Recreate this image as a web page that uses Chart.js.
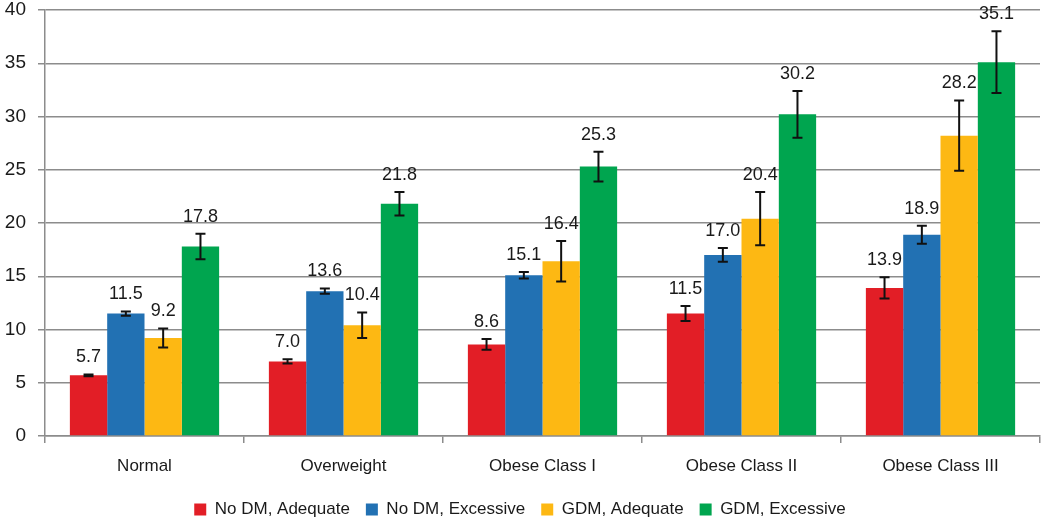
<!DOCTYPE html>
<html>
<head>
<meta charset="utf-8">
<script src="https://cdn.jsdelivr.net/npm/chart.js@4"></script>
<style>
	body { margin: 0; background: #fff; }
	#wrap { width: 1050px; height: 524px; }
</style>
</head>
<body>
<div id="wrap"><canvas id="myChart" width="1050" height="524"></canvas></div>
<script>
//Chart data

let categories = ['Normal', 'Overweight', 'Obese Class I', 'Obese Class II', 'Obese Class III'];
let seriesNames = ['No DM, Adequate', 'No DM, Excessive', 'GDM, Adequate', 'GDM, Excessive'];

let noDmAdequate = [5.7, 7.0, 8.6, 11.5, 13.9];
let noDmExcessive = [11.5, 13.6, 15.1, 17.0, 18.9];
let gdmAdequate = [9.2, 10.4, 16.4, 20.4, 28.2];
let gdmExcessive = [17.8, 21.8, 25.3, 30.2, 35.1];

// error bar half widths
let errNoDmAdequate = [0.08, 0.2, 0.5, 0.7, 1.0];
let errNoDmExcessive = [0.2, 0.25, 0.3, 0.65, 0.85];
let errGdmAdequate = [0.9, 1.2, 1.9, 2.5, 3.3];
let errGdmExcessive = [1.2, 1.1, 1.4, 2.2, 2.9];

let yTicks = [0, 5, 10, 15, 20, 25, 30, 35, 40];

let colors = ['#e21e26', '#2271b3', '#fdb813', '#00a54f'];
let values = [noDmAdequate, noDmExcessive, gdmAdequate, gdmExcessive];
let errors = [errNoDmAdequate, errNoDmExcessive, errGdmAdequate, errGdmExcessive];

const fontFamily = '"Liberation Sans", Arial, sans-serif';
const gridColor = '#8c8c8c';

//Error bars and value labels

const errorBarPlugin = {
	id: 'errorBars',
	afterDatasetsDraw(chart) {
		let ctx = chart.ctx;
		let yScale = chart.scales.y;
		ctx.save();
		chart.data.datasets.forEach((ds, i) => {
			let meta = chart.getDatasetMeta(i);
			meta.data.forEach((bar, j) => {
				let v = ds.data[j];
				let e = errors[i][j];
				let top = yScale.getPixelForValue(v + e);
				let bottom = yScale.getPixelForValue(v - e);
				let x = bar.x;
				ctx.strokeStyle = '#111';
				ctx.lineWidth = 2;
				ctx.beginPath();
				ctx.moveTo(x, top);
				ctx.lineTo(x, bottom);
				ctx.moveTo(x - 5, top);
				ctx.lineTo(x + 5, top);
				ctx.moveTo(x - 5, bottom);
				ctx.lineTo(x + 5, bottom);
				ctx.stroke();

				ctx.fillStyle = '#1a1a1a';
				ctx.font = '18px ' + fontFamily;
				ctx.textAlign = 'center';
				ctx.textBaseline = 'middle';
				ctx.fillText(v.toFixed(1), x, top - 17);
			});
		});
		ctx.restore();
	}
};

//Build chart

const ctx = document.getElementById('myChart').getContext('2d');
const myChart = new Chart(ctx, {
	type: 'bar',
	data: {
		labels: categories,
		datasets: seriesNames.map((name, i) => ({
			label: name,
			data: values[i],
			backgroundColor: colors[i],
			borderWidth: 0,
			barPercentage: 1,
			categoryPercentage: 0.75
		}))
	},
	options: {
		responsive: false,
		animation: false,
		layout: {
			padding: { top: 10, right: 10, left: 0, bottom: -4 }
		},
		plugins: {
			legend: {
				position: 'bottom',
				labels: {
					boxWidth: 12,
					boxHeight: 12,
					padding: 16,
					color: '#1a1a1a',
					font: { family: fontFamily, size: 17 }
				}
			},
			tooltip: { enabled: false }
		},
		scales: {
			x: {
				afterFit: (scale) => {
					scale.height = 49;
				},
				grid: {
					drawOnChartArea: false,
					offset: true,
					tickLength: 7,
					color: gridColor,
					lineWidth: 1.5
				},
				border: { display: true, color: gridColor, width: 1.5 },
				ticks: {
					color: '#1a1a1a',
					padding: 13,
					font: { family: fontFamily, size: 17 }
				}
			},
			y: {
				min: 0,
				max: 40,
				afterBuildTicks: (scale) => {
					scale.ticks = yTicks.map(v => ({ value: v }));
				},
				afterFit: (scale) => {
					scale.width = 45;
					scale.paddingTop = 0;
				},
				grid: {
					color: gridColor,
					lineWidth: 1.5,
					tickLength: 7
				},
				border: { display: true, color: gridColor, width: 1.5 },
				ticks: {
					color: '#1a1a1a',
					padding: 12,
					font: { family: fontFamily, size: 19 }
				}
			}
		}
	},
	plugins: [errorBarPlugin]
});
</script>
</body>
</html>
